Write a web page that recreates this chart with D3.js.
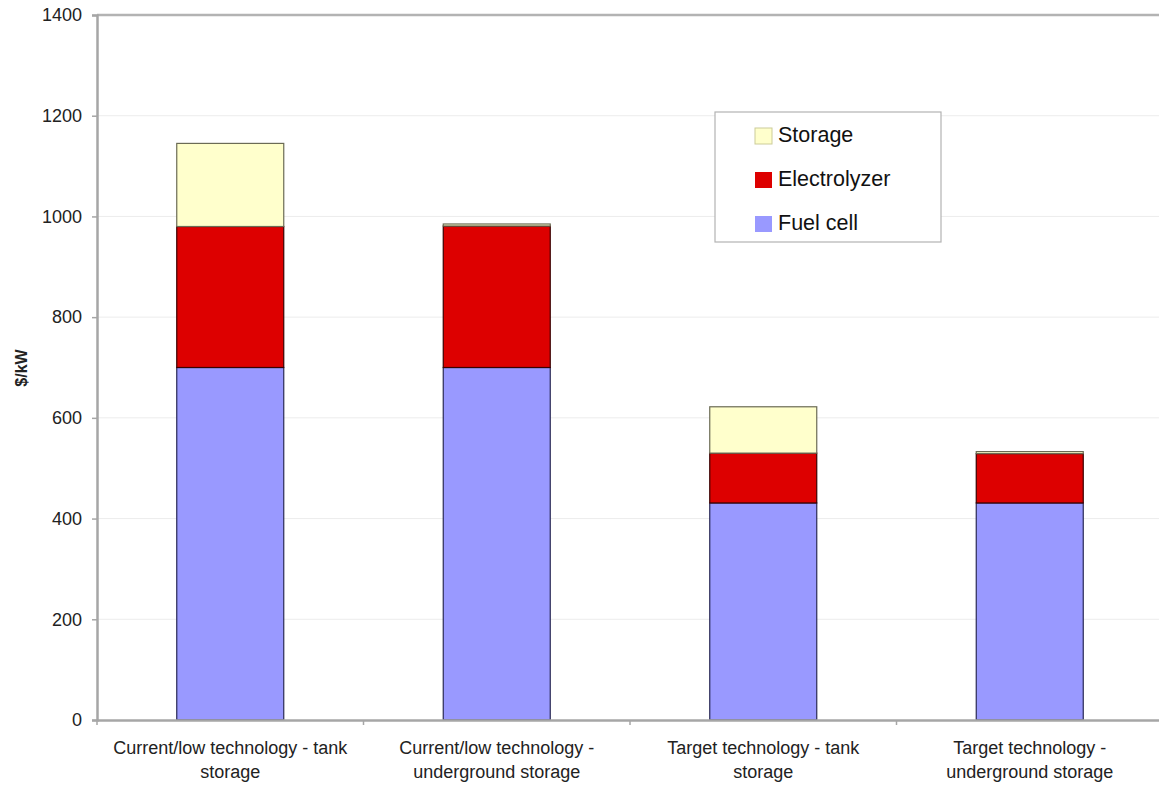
<!DOCTYPE html>
<html>
<head>
<meta charset="utf-8">
<script src="https://cdn.jsdelivr.net/npm/d3@7"></script>
<style>
  body { margin: 0; background: #fff; overflow: hidden; }
  svg { display: block; font-family: "Liberation Sans", Arial, Helvetica, sans-serif; }
</style>
</head>
<body>
<svg id="chart" width="1159" height="787"></svg>
<script>
// Cost breakdown of hydrogen energy storage systems ($/kW)
const categories = [
  ["Current/low technology - tank", "storage"],
  ["Current/low technology -", "underground storage"],
  ["Target technology - tank", "storage"],
  ["Target technology -", "underground storage"]
];
const fuelCell     = [700, 700, 431, 431];
const electrolyzer = [280, 281, 99, 98];
const storage      = [165, 4, 92, 4];
const yTicks = [0, 200, 400, 600, 800, 1000, 1200, 1400];

const seriesNames  = ["Fuel cell", "Electrolyzer", "Storage"];
const seriesColors = { "Fuel cell": "#9999ff", "Electrolyzer": "#dd0000", "Storage": "#ffffcc" };
const seriesStroke = { "Fuel cell": "#2a2a55", "Electrolyzer": "#3a0000", "Storage": "#6b6b55" };

const svg = d3.select("#chart");
const W = 1159, H = 787;
// the plot area runs slightly past the right edge of the canvas
const x0 = 97, x1 = 1163;
const y0 = 720, y1 = 15;

const rows = categories.map((c, i) => ({
  key: i,
  "Fuel cell": fuelCell[i],
  "Electrolyzer": electrolyzer[i],
  "Storage": storage[i]
}));
const stacked = d3.stack().keys(seriesNames)(rows);

const x = d3.scaleBand().domain(d3.range(categories.length)).range([x0, x1]).paddingInner(0).paddingOuter(0);
const y = d3.scaleLinear().domain([0, 1400]).range([y0, y1]);

// gridlines
svg.append("g").selectAll("line").data(yTicks.filter(t => t > 0 && t < 1400)).join("line")
  .attr("x1", x0).attr("x2", x1)
  .attr("y1", d => y(d)).attr("y2", d => y(d))
  .attr("stroke", "#ececec").attr("stroke-width", 1);

// plot frame (top)
svg.append("line").attr("x1", x0).attr("x2", x1).attr("y1", y1).attr("y2", y1)
  .attr("stroke", "#b3b3b3").attr("stroke-width", 2.5);

// bars
const barW = 107;
stacked.forEach(s => {
  svg.append("g").selectAll("rect").data(s).join("rect")
    .attr("x", (d, i) => x(i) + x.bandwidth() / 2 - barW / 2)
    .attr("width", barW)
    .attr("y", d => y(d[1]))
    .attr("height", d => y(d[0]) - y(d[1]))
    .attr("fill", seriesColors[s.key])
    .attr("stroke", seriesStroke[s.key])
    .attr("stroke-width", 1.2);
});

// y axis
const yAxis = d3.axisLeft(y).tickValues(yTicks).tickSize(5).tickPadding(10).tickFormat(d3.format("d"));
const gy = svg.append("g").attr("transform", `translate(${x0},0)`).call(yAxis);
gy.select(".domain").attr("stroke", "#a6a6a6").attr("stroke-width", 2.5);
gy.selectAll(".tick line").attr("stroke", "#a6a6a6").attr("stroke-width", 1.5);
gy.selectAll(".tick text").attr("font-size", 18).attr("fill", "#222")
  .attr("font-family", "Liberation Sans, Arial, sans-serif");

// x axis
const xAxis = d3.axisBottom(x).tickSize(0).tickFormat("");
const gx = svg.append("g").attr("transform", `translate(0,${y0})`).call(xAxis);
gx.select(".domain").attr("stroke", "#a6a6a6").attr("stroke-width", 2.5);
// category separators
svg.append("g").selectAll("line").data(d3.range(categories.length + 1)).join("line")
  .attr("x1", i => x0 + i * x.bandwidth()).attr("x2", i => x0 + i * x.bandwidth())
  .attr("y1", y0).attr("y2", y0 + 5)
  .attr("stroke", "#a6a6a6").attr("stroke-width", 1.5);

// category labels
const lab = svg.append("g").selectAll("text").data(categories).join("text")
  .attr("text-anchor", "middle")
  .attr("font-size", 18).attr("fill", "#222");
lab.each(function (d, i) {
  const t = d3.select(this);
  d.forEach((line, j) => {
    t.append("tspan").attr("x", x(i) + x.bandwidth() / 2).attr("y", y0 + 34 + j * 24).text(line);
  });
});

// y axis title
svg.append("text")
  .attr("transform", "translate(27,368) rotate(-90)")
  .attr("text-anchor", "middle")
  .attr("font-size", 16).attr("font-weight", "bold").attr("fill", "#222")
  .text("$/kW");

// legend
const legend = svg.append("g").attr("transform", "translate(715,112)");
legend.append("rect").attr("width", 226).attr("height", 130)
  .attr("fill", "#fff").attr("stroke", "#b3b3b3").attr("stroke-width", 1.2);
const legendItems = ["Storage", "Electrolyzer", "Fuel cell"];
legendItems.forEach((name, i) => {
  const base = 30 + i * 44;
  legend.append("rect").attr("x", 40).attr("y", base - 14).attr("width", 17).attr("height", 16)
    .attr("fill", seriesColors[name])
    .attr("stroke", name === "Storage" ? "#cccc99" : "none").attr("stroke-width", 1);
  legend.append("text").attr("x", 63).attr("y", base)
    .attr("font-size", 21.5).attr("fill", "#111").text(name);
});
</script>
</body>
</html>
